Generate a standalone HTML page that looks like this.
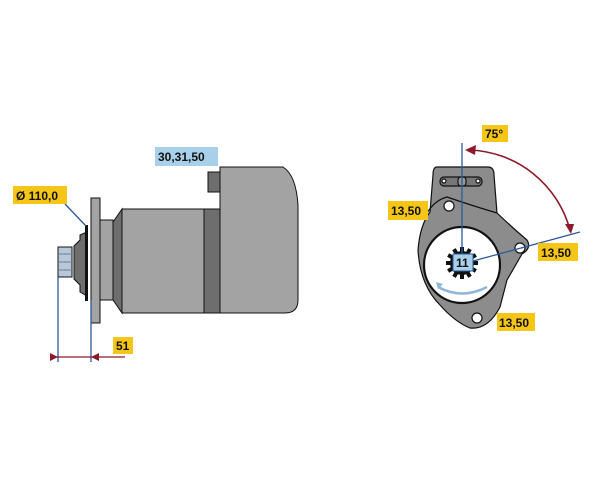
<!DOCTYPE html>
<html><head><style>
html,body{margin:0;padding:0;background:#fff;}
svg{display:block;}
text{font-family:"Liberation Sans",sans-serif;font-weight:bold;font-size:12px;fill:#111;}
</style></head><body>
<svg width="600" height="500" viewBox="0 0 600 500" xmlns="http://www.w3.org/2000/svg">
<g stroke="#111" stroke-width="1">
<path d="M220,167 L283,167 Q296,175 298,205 L298,300 Q298,313 285,313 L220,313 Z" fill="#a3a3a3"/>
<rect x="208" y="172" width="12" height="20" fill="#6e6e6e"/>
<rect x="122" y="209" width="82" height="104" fill="#a3a3a3"/>
<rect x="204" y="209" width="16" height="104" fill="#6e6e6e"/>
<path d="M122,209 L113,222 L113,300 L122,313 Z" fill="#6e6e6e"/>
<rect x="100" y="220" width="13" height="80" fill="#a3a3a3"/>
<rect x="91" y="198" width="9" height="125" fill="#a3a3a3"/>
<path d="M87,232 L80,235 L80,240 L74,246 L74,279 L80,285 L80,292 L87,296 Z" fill="#6e6e6e"/>
<rect x="85" y="225" width="3" height="76" fill="#111" stroke="none"/>
<rect x="58" y="247" width="14" height="30" fill="#b8c8d8"/>
<line x1="58" y1="254" x2="72" y2="254" stroke="#6a7f96"/>
<line x1="58" y1="262" x2="72" y2="262" stroke="#6a7f96"/>
<line x1="58" y1="270" x2="72" y2="270" stroke="#6a7f96"/>
</g>
<g stroke="#2a5a9a" stroke-width="1.3">
<line x1="58" y1="277" x2="58" y2="362"/>
<line x1="91" y1="300" x2="91" y2="362"/>
<line x1="65" y1="204" x2="86" y2="226"/>
</g>
<line x1="50" y1="357" x2="125" y2="357" stroke="#8b1a2a" stroke-width="1.3"/>
<path d="M50,353 L58,357 L50,361 Z" fill="#8b1a2a"/>
<path d="M99,353 L91,357 L99,361 Z" fill="#8b1a2a"/>
<rect x="155" y="147" width="63" height="19" fill="#a9d0ea"/>
<text x="158" y="161">30,31,50</text>
<rect x="13" y="186" width="54" height="18" fill="#f5c518"/>
<text x="16" y="200">Ø 110,0</text>
<rect x="113" y="337" width="20" height="17" fill="#f5c518"/>
<text x="116" y="350">51</text>

<g stroke="#111" stroke-width="1.2" fill="#8c8c8c">
<path d="M437,167 L488,167 Q494,167 494,175 L497,213 Q515,230 527,240 Q532,248 522,254 L507,280 L500,307 Q488,330 470,328 Q455,322 440,305 Q420,285 418,250 Q420,225 430,212 L433,175 Q433,167 437,167 Z"/>
<path d="M427,213 Q435,200 447,197 Q470,205 497,213" fill="none"/>
<circle cx="462" cy="265" r="38" fill="#fff" stroke-width="2.2"/>
<circle cx="449" cy="206" r="5" fill="#fff"/>
<circle cx="520" cy="248" r="5" fill="#fff"/>
<circle cx="477" cy="318" r="5" fill="#fff"/>
<rect x="440" y="177" width="42" height="9" rx="4" fill="#777"/>
<circle cx="444" cy="181" r="2" fill="#fff"/>
<circle cx="478" cy="181" r="2" fill="#fff"/>
<rect x="458" y="177" width="8" height="9" rx="3" fill="#999"/>
</g>
<g transform="translate(462,263)">
<circle r="12" fill="#111"/>
<g fill="#111">
<rect x="-2" y="-16" width="4" height="7" transform="rotate(0)"/>
<rect x="-2" y="-16" width="4" height="7" transform="rotate(30)"/>
<rect x="-2" y="-16" width="4" height="7" transform="rotate(60)"/>
<rect x="-2" y="-16" width="4" height="7" transform="rotate(90)"/>
<rect x="-2" y="-16" width="4" height="7" transform="rotate(120)"/>
<rect x="-2" y="-16" width="4" height="7" transform="rotate(150)"/>
<rect x="-2" y="-16" width="4" height="7" transform="rotate(180)"/>
<rect x="-2" y="-16" width="4" height="7" transform="rotate(210)"/>
<rect x="-2" y="-16" width="4" height="7" transform="rotate(240)"/>
<rect x="-2" y="-16" width="4" height="7" transform="rotate(270)"/>
<rect x="-2" y="-16" width="4" height="7" transform="rotate(300)"/>
<rect x="-2" y="-16" width="4" height="7" transform="rotate(330)"/>
</g>
</g>
<path d="M438,287 Q462,300 487,287" fill="none" stroke="#8fb5d8" stroke-width="2.5"/>
<path d="M436,282 L443,284 L438,289 Z" fill="#8fb5d8"/>
<g stroke="#2a5a9a" stroke-width="1.3">
<line x1="462" y1="143" x2="462" y2="262"/>
<line x1="462" y1="264" x2="580" y2="232"/>
</g>
<rect x="453" y="254" width="20" height="17" fill="#a9d0ea" stroke="#2a5a9a" stroke-width="1"/>
<text x="456" y="267">11</text>
<path d="M470,150 A108,108 0 0 1 570,230" fill="none" stroke="#8b1a2a" stroke-width="1.6"/>
<path d="M465,150 L476,145 L475,155 Z" fill="#8b1a2a"/>
<path d="M571,234 L565,224 L574,224 Z" fill="#8b1a2a"/>
<rect x="482" y="125" width="26" height="17" fill="#f5c518"/>
<text x="485" y="138">75°</text>
<rect x="388" y="201" width="40" height="19" fill="#f5c518"/>
<text x="391" y="215">13,50</text>
<rect x="538" y="243" width="40" height="18" fill="#f5c518"/>
<text x="541" y="257">13,50</text>
<rect x="497" y="313" width="38" height="18" fill="#f5c518"/>
<text x="499" y="327">13,50</text>
</svg>
</body></html>
